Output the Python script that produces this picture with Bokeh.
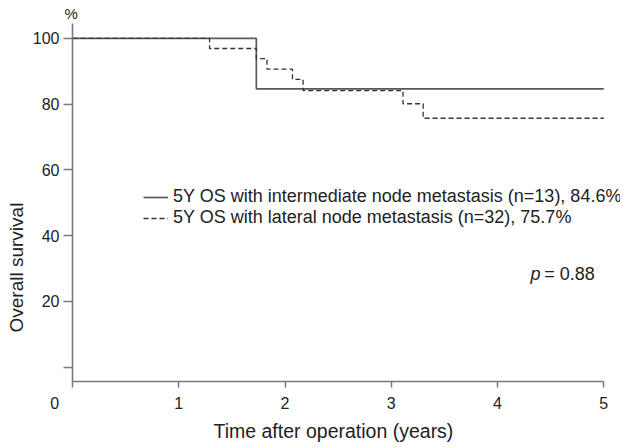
from bokeh.plotting import figure
from bokeh.models import Range1d, Legend, LegendItem, Label, FixedTicker, Title
from bokeh.embed import file_html
from bokeh.resources import INLINE

# Kaplan-Meier step data (years, % survival)
inter_time = [0, 1.73, 5.0]
inter_surv = [100, 84.6, 84.6]
lat_time = [0, 1.29, 1.73, 1.83, 2.07, 2.17, 3.11, 3.30, 5.0]
lat_surv = [100, 96.9, 93.8, 90.6, 87.5, 84.1, 80.1, 75.7, 75.7]

x_ticks = [0, 1, 2, 3, 4, 5]
y_ticks = [0, 20, 40, 60, 80, 100]
inter_label = "5Y OS with intermediate node metastasis (n=13), 84.6%"
lat_label = "5Y OS with lateral node metastasis (n=32), 75.7%"

FONT = "Liberation Sans"
AXIS_COL = "#7a7a7a"
TEXT_COL = "#222222"

p = figure(width=628, height=446, x_range=Range1d(0, 5.157), y_range=Range1d(-4.33, 104.5),
           output_backend="svg", toolbar_location=None,
           min_border_left=72, min_border_right=8, min_border_top=23, min_border_bottom=64)
p.outline_line_color = None
p.xgrid.visible = False
p.ygrid.visible = False
p.background_fill_color = "white"
p.border_fill_color = "white"

r1 = p.step(inter_time, inter_surv, mode="after", line_color="#5a5a5a", line_width=1.7)
r2 = p.step(lat_time, lat_surv, mode="after", line_color="#333333", line_width=1.3,
            line_dash="5 3")

for ax in (p.xaxis[0], p.yaxis[0]):
    ax.axis_line_color = AXIS_COL
    ax.axis_line_width = 1.6
    ax.major_tick_line_color = AXIS_COL
    ax.major_tick_line_width = 1.5
    ax.minor_tick_line_color = None
    ax.major_tick_in = 0
    ax.major_label_text_font = FONT
    ax.major_label_text_font_size = "16px"
    ax.major_label_text_color = TEXT_COL

p.xaxis.ticker = FixedTicker(ticks=x_ticks)
p.xaxis.bounds = (0, 5)
p.xaxis.major_label_overrides = {0: "0" + "\u00a0" * 8}
p.xaxis.major_tick_out = 6
p.xaxis.major_label_standoff = 7

p.yaxis.ticker = FixedTicker(ticks=y_ticks)
p.yaxis.major_label_overrides = {0: ""}
p.yaxis.major_tick_out = 9
p.yaxis.major_label_standoff = 4

legend = Legend(items=[LegendItem(label=inter_label, renderers=[r1]),
                       LegendItem(label=lat_label, renderers=[r2])],
                location=(71, 153), orientation="vertical",
                glyph_width=25, glyph_height=20, label_height=20, label_standoff=5,
                padding=0, spacing=0, margin=0,
                label_text_font=FONT, label_text_font_size="18px", label_text_color=TEXT_COL,
                background_fill_alpha=0, border_line_alpha=0)
p.add_layout(legend)

xtitle = Title(text="Time after operation (years)", align="left", offset=141,
               vertical_align="middle", standoff=8, text_font=FONT, text_font_size="19.5px",
               text_font_style="normal", text_color=TEXT_COL)
p.add_layout(xtitle, "below")

ytitle = Title(text="Overall survival", align="left", offset=49, vertical_align="middle",
               standoff=4, text_font=FONT, text_font_size="19px", text_font_style="normal",
               text_color=TEXT_COL)
p.add_layout(ytitle, "left")

pct = Title(text="%", align="left", offset=-8, vertical_align="middle", standoff=2,
            text_font=FONT, text_font_size="15px", text_font_style="normal",
            text_color=TEXT_COL)
p.add_layout(pct, "above")

def lab(x, y, text, size, **kw):
    l = Label(x=x, y=y, text=text, text_font=FONT, text_font_size=size,
              text_color=TEXT_COL, **kw)
    p.add_layout(l)
    return l

lab(4.31, 28.2, "p", "18px", text_align="left", text_baseline="alphabetic", text_font_style="italic")
lab(4.44, 28.2, "= 0.88", "18px", text_align="left", text_baseline="alphabetic")

open("out.html", "w").write(file_html(p, INLINE))
